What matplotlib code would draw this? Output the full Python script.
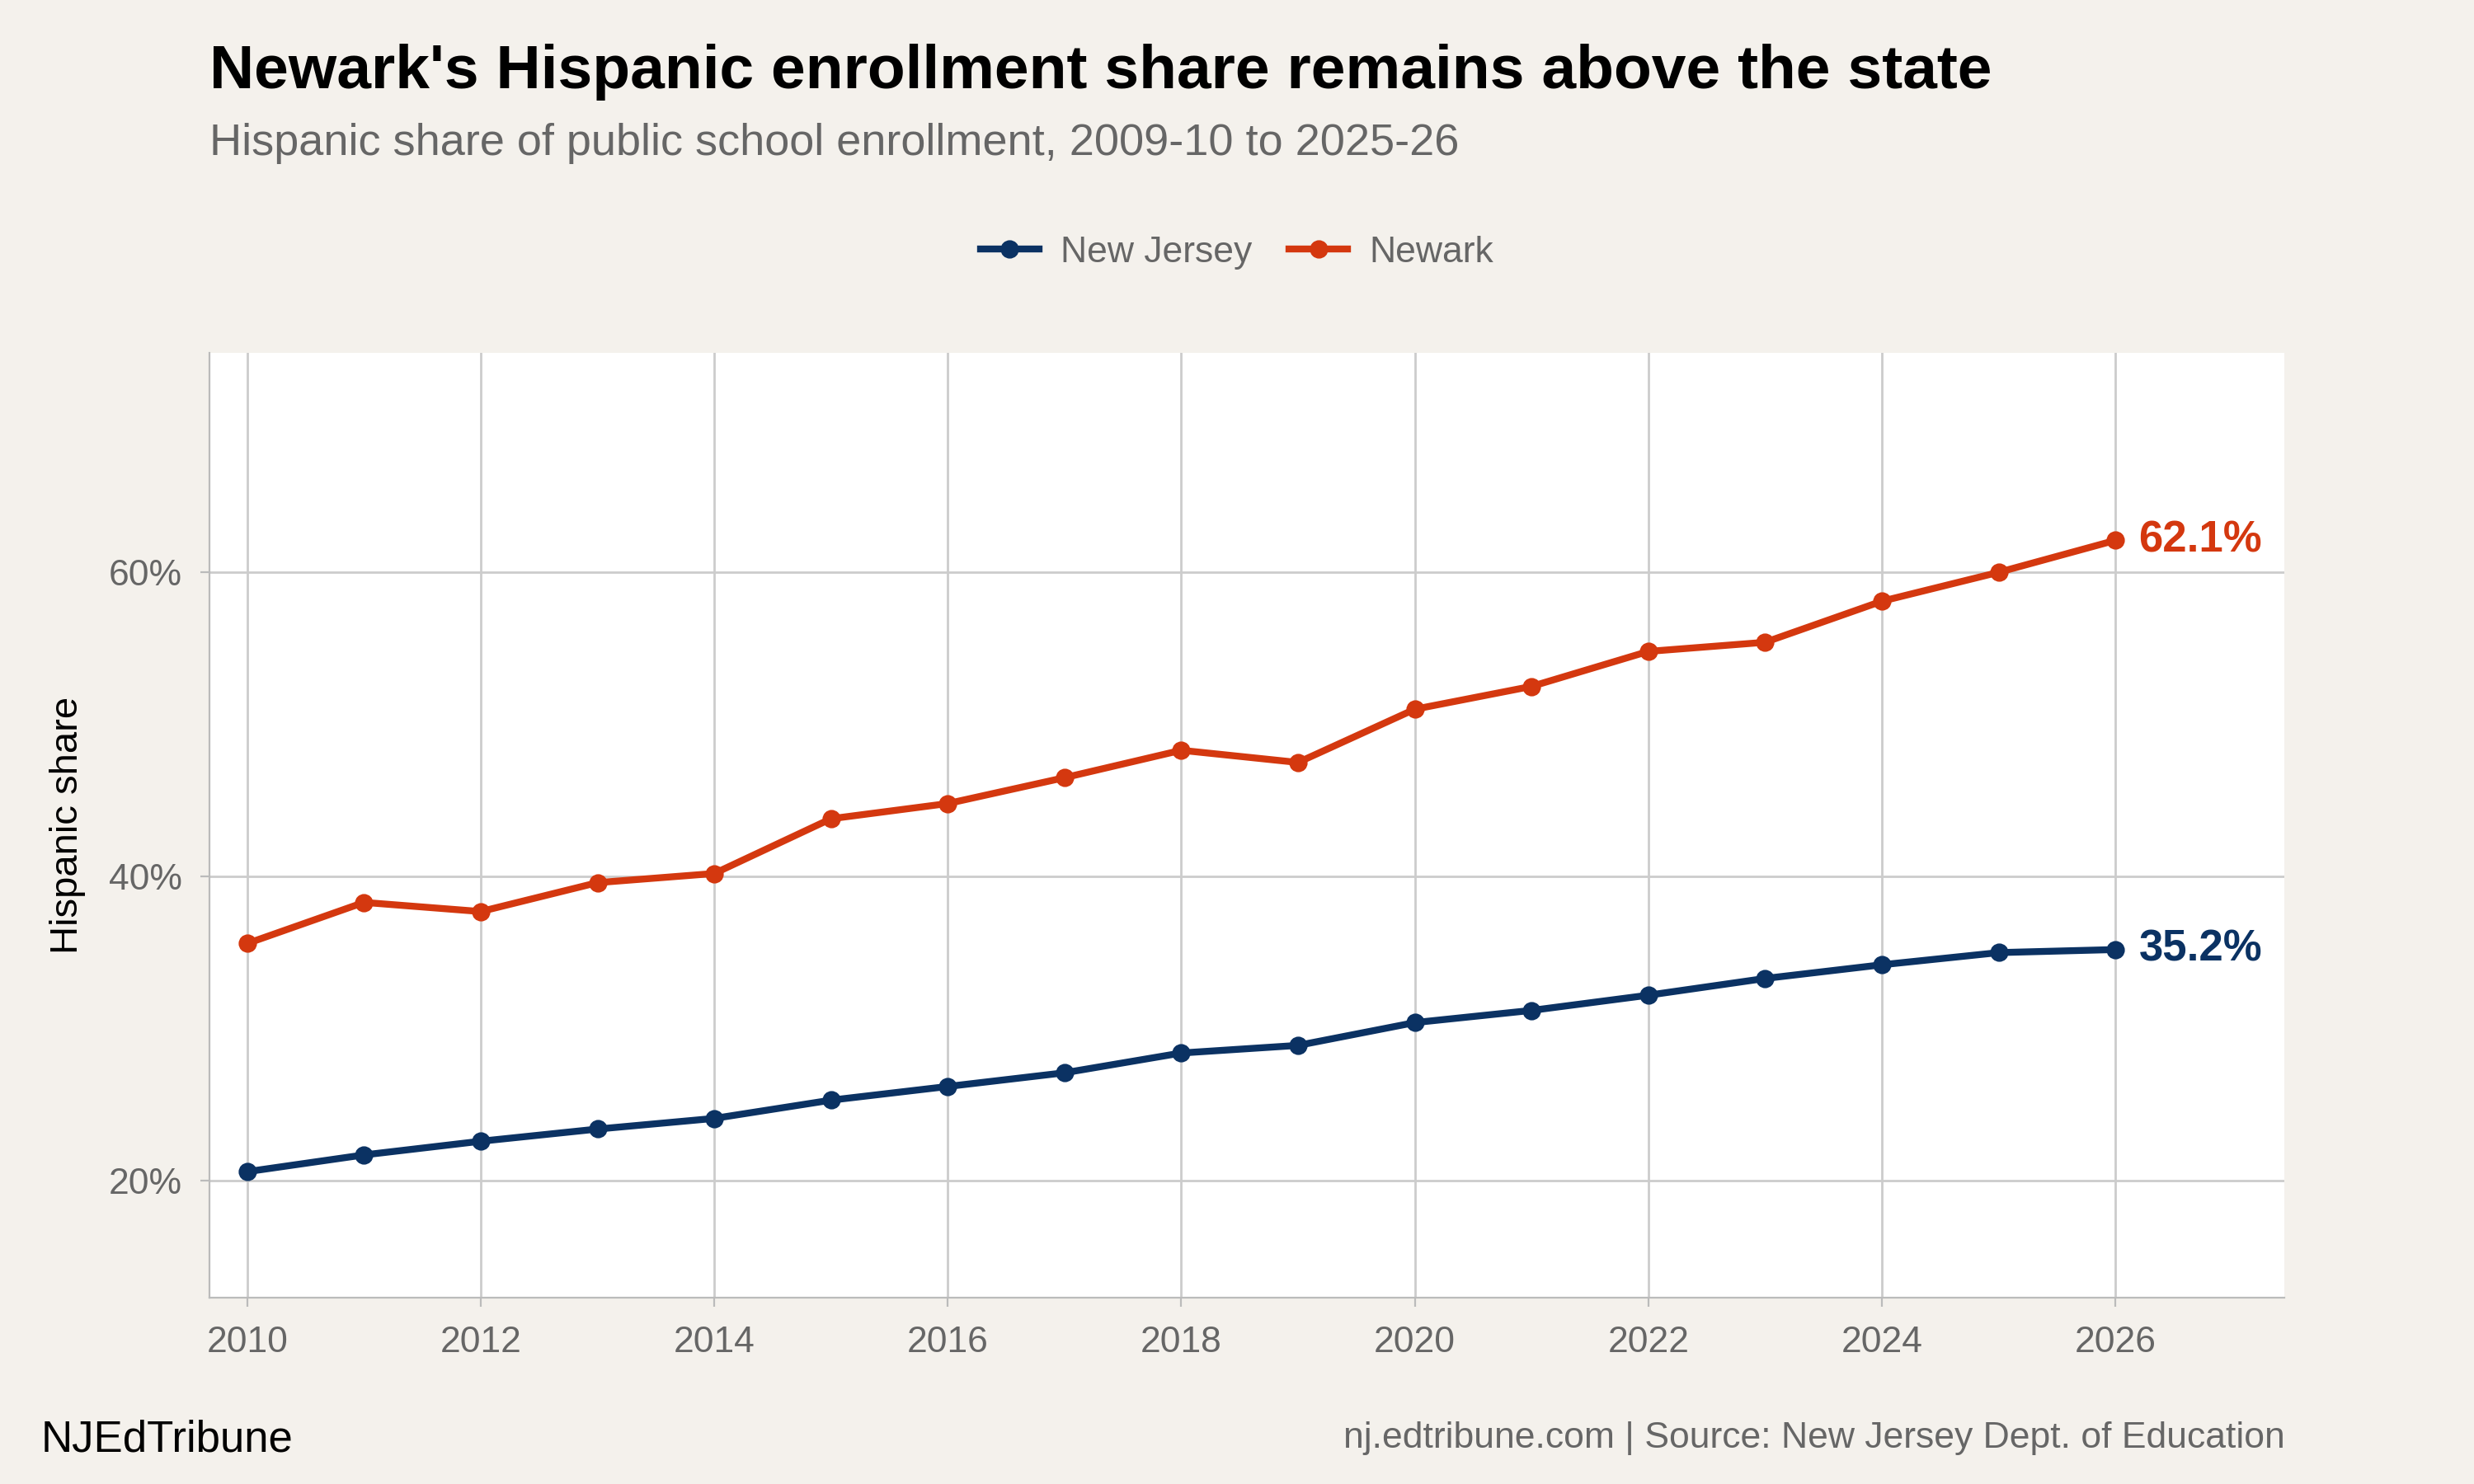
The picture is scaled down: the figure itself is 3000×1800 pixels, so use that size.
import matplotlib.pyplot as plt
from matplotlib.ticker import FuncFormatter

years = list(range(2010, 2027))
new_jersey = [20.6, 21.7, 22.6, 23.4, 24.1, 25.3, 26.2, 27.1, 28.4, 28.9, 30.4, 31.2, 32.2, 33.3, 34.2, 35.0, 35.2]
newark = [35.6, 38.3, 37.7, 39.6, 40.2, 43.8, 44.8, 46.5, 48.3, 47.5, 51.0, 52.5, 54.8, 55.4, 58.1, 60.0, 62.1]

NAVY = "#0B3263"
ORANGE = "#D4380F"
BG = "#F4F1EC"
GREY = "#666666"

plt.rcParams["font.family"] = ["Liberation Sans", "DejaVu Sans"]

fig = plt.figure(figsize=(15, 9), dpi=200, facecolor=BG)
ax = fig.add_axes([133 / 1568, 1 - 823 / 941, (1448 - 133) / 1568, (823 - 224) / 941])
ax.set_facecolor("white")

ax.plot(years, new_jersey, color=NAVY, lw=3, marker="o", ms=7, label="New Jersey")
ax.plot(years, newark, color=ORANGE, lw=3, marker="o", ms=7, label="Newark")

ax.text(years[-1] + 0.2, new_jersey[-1], f"{new_jersey[-1]:.1f}%", color=NAVY,
        fontsize=19, fontweight="bold", va="center", ha="left")
ax.text(years[-1] + 0.2, newark[-1], f"{newark[-1]:.1f}%", color=ORANGE,
        fontsize=19, fontweight="bold", va="center", ha="left")

ax.set_xlim(2009.68, 2027.45)
ax.set_ylim(12.3, 74.4)
ax.set_xticks(range(2010, 2027, 2))
ax.set_yticks([20, 40, 60])
ax.yaxis.set_major_formatter(FuncFormatter(lambda v, p: f"{v:.0f}%"))
ax.grid(True, color="#CCCCCC", lw=1)
ax.set_axisbelow(True)
for s in ["top", "right"]:
    ax.spines[s].set_visible(False)
for s in ["left", "bottom"]:
    ax.spines[s].set_color("#BBBBBB")
ax.tick_params(colors=GREY, labelsize=16, length=4, pad=8)
ax.tick_params(axis="both", color="#BBBBBB")
ax.set_ylabel("Hispanic share", fontsize=17, color="black", labelpad=10)

fig.text(133 / 1568, 1 - 46 / 941, "Newark's Hispanic enrollment share remains above the state",
         fontsize=27, fontweight="bold", va="center", ha="left")
fig.text(133 / 1568, 1 - 91 / 941, "Hispanic share of public school enrollment, 2009-10 to 2025-26",
         fontsize=19.5, color=GREY, va="center", ha="left")
fig.legend(loc="center", bbox_to_anchor=(0.5, 1 - 160 / 941), ncol=2, frameon=False,
           fontsize=16, labelcolor=GREY, handlelength=1.6, columnspacing=1.0, handletextpad=0.6)
fig.text(26 / 1568, 1 - 913 / 941, "NJEdTribune", fontsize=19, va="center", ha="left")
fig.text(1448 / 1568, 1 - 912 / 941, "nj.edtribune.com | Source: New Jersey Dept. of Education",
         fontsize=16, color=GREY, va="center", ha="right")

fig.savefig("out.png", dpi=200, facecolor=BG)
